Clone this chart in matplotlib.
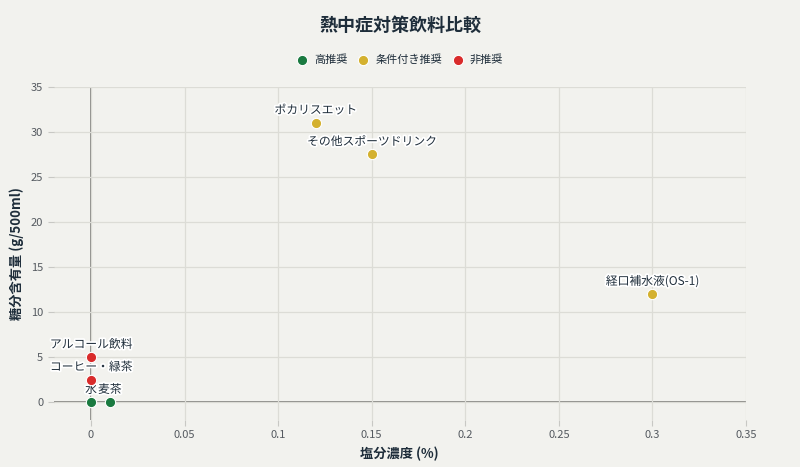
import matplotlib
matplotlib.use('Agg')
import matplotlib.pyplot as plt
import matplotlib.patheffects as pe

plt.rcParams['font.family'] = ['Noto Sans CJK JP', 'DejaVu Sans']

# Data
names = ['水', '麦茶', 'コーヒー・緑茶', 'アルコール飲料', 'ポカリスエット', 'その他スポーツドリンク', '経口補水液(OS-1)']
salt = [0, 0.01, 0, 0, 0.12, 0.15, 0.30]
sugar = [0, 0, 2.5, 5, 31, 27.5, 12]
groups = ['高推奨', '高推奨', '非推奨', '非推奨', '条件付き推奨', '条件付き推奨', '条件付き推奨']
group_order = ['高推奨', '条件付き推奨', '非推奨']
group_colors = {'高推奨': '#1a7a40', '条件付き推奨': '#d4b12f', '非推奨': '#d92b2b'}

bg = '#f2f2ee'
text_col = '#1e2d3a'

fig = plt.figure(figsize=(8, 4.67), dpi=100, facecolor=bg)
ax = fig.add_axes([0.067, 0.10, 0.8655, 0.714], facecolor=bg)

for g in group_order:
    xs = [s for s, gg in zip(salt, groups) if gg == g]
    ys = [v for v, gg in zip(sugar, groups) if gg == g]
    ax.scatter(xs, ys, s=55, color=group_colors[g], edgecolor='white', linewidth=0.8,
               zorder=6, label=g)

halo = [pe.withStroke(linewidth=2.5, foreground='white')]
for n, x, y in zip(names, salt, sugar):
    ax.annotate(n, (x, y), xytext=(0, 4.5), textcoords='offset points', ha='center', va='bottom',
                fontsize=8.5, color=text_col, path_effects=halo, zorder=5)

ax.set_xlim(-0.02, 0.35)
ax.set_ylim(-2, 35)
ax.set_xticks([0, 0.05, 0.1, 0.15, 0.2, 0.25, 0.3, 0.35])
ax.set_xticklabels(['0', '0.05', '0.1', '0.15', '0.2', '0.25', '0.3', '0.35'])
ax.set_yticks(range(0, 36, 5))

ax.grid(color='#dcdcd6', linewidth=0.9, zorder=0)
ax.axvline(0, color='#7a7a76', linewidth=1.2, zorder=1)
ax.axhline(0, color='#7a7a76', linewidth=1.2, zorder=1)
for sp in ax.spines.values():
    sp.set_visible(False)
ax.tick_params(axis='both', colors='#c8c8c4', labelcolor='#555a60', labelsize=8, length=4, width=0.8)
ax.tick_params(axis='x', pad=3)

ax.set_xlabel('塩分濃度 (%)', fontsize=9.5, fontweight='bold', color=text_col, labelpad=5)
ax.set_ylabel('糖分含有量 (g/500ml)', fontsize=9.5, fontweight='bold', color=text_col, labelpad=5)

fig.suptitle('熱中症対策飲料比較', x=0.5, y=0.965, fontsize=13, fontweight='bold', color=text_col)
fig.legend(loc='center', bbox_to_anchor=(0.5, 0.872), ncol=3, frameon=False, fontsize=8,
           handlelength=1.0, handletextpad=0.6, columnspacing=0.9, markerscale=1.0,
           labelcolor=text_col)

plt.savefig('out.png', dpi=100, facecolor=bg)
